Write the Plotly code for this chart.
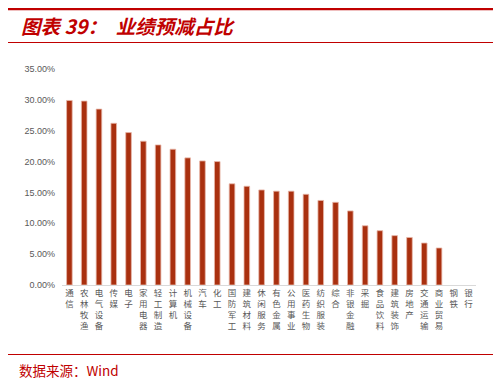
import plotly.graph_objects as go

categories = ["通信", "农林牧渔", "电气设备", "传媒", "电子", "家用电器", "轻工制造", "计算机",
              "机械设备", "汽车", "化工", "国防军工", "建筑材料", "休闲服务", "有色金属", "公用事业",
              "医药生物", "纺织服装", "综合", "非银金融", "采掘", "食品饮料", "建筑装饰", "房地产",
              "交通运输", "商业贸易", "钢铁", "银行"]
values = [0.299, 0.298, 0.285, 0.262, 0.247, 0.233, 0.227, 0.220,
          0.206, 0.201, 0.200, 0.164, 0.160, 0.154, 0.152, 0.152,
          0.147, 0.137, 0.134, 0.120, 0.096, 0.088, 0.080, 0.077,
          0.068, 0.060, 0.0, 0.0]
ytick_vals = [0, 0.05, 0.10, 0.15, 0.20, 0.25, 0.30, 0.35]
ytick_text = ["0.00%", "5.00%", "10.00%", "15.00%", "20.00%", "25.00%", "30.00%", "35.00%"]

# page body has an 8px margin; figure is drawn offset by (8, 8)
OFF = 8
W, H = 501 - OFF, 386 - OFF
L, R, T, B = 62 - OFF, 476 - OFF, 69 - OFF, 285 - OFF


def px(x):
    return (x - OFF - L) / (R - L)


def py(y):
    return (B - (y - OFF)) / (B - T)


fig = go.Figure()
fig.add_trace(go.Bar(
    x=categories,
    y=values,
    width=0.38,
    marker=dict(color="#A9300F",
                line=dict(color="#E9B7AA", width=[0.8 if v > 0 else 0 for v in values])),
))

fig.update_layout(
    width=W, height=H,
    margin=dict(l=L, r=W - R, t=T, b=H - B, pad=0),
    paper_bgcolor="white", plot_bgcolor="white",
    showlegend=False,
    font=dict(family="Noto Sans CJK SC, sans-serif", color="#595959"),
    xaxis=dict(
        tickmode="array",
        tickvals=categories,
        ticktext=["<br>".join(list(c)) for c in categories],
        tickangle=0,
        tickfont=dict(size=8.5, color="#595959", family="Noto Sans CJK SC"),
        showline=True, linecolor="#D9D9D9", linewidth=1,
        showgrid=False, ticks="", zeroline=False,
    ),
    yaxis=dict(
        range=[0, 0.35],
        tickmode="array",
        tickvals=ytick_vals,
        ticktext=ytick_text,
        tickfont=dict(size=9, color="#595959", family="Liberation Sans, Arial"),
        showline=False, showgrid=False, zeroline=False, ticks="",
        ticklabelstandoff=6,
    ),
)

shapes = [
    dict(type="line", xref="paper", yref="paper", x0=px(8), x1=px(496), y0=py(9), y1=py(9),
         line=dict(color="#C00000", width=2.5)),
    dict(type="line", xref="paper", yref="paper", x0=px(8), x1=px(496), y0=py(42.5), y1=py(42.5),
         line=dict(color="#C00000", width=1)),
    dict(type="line", xref="paper", yref="paper", x0=px(8), x1=px(496), y0=py(354.5), y1=py(354.5),
         line=dict(color="#C00000", width=1)),
    dict(type="rect", xref="paper", yref="paper", x0=px(497), x1=px(501), y0=py(167), y1=py(224),
         fillcolor="#7F8790", line=dict(width=0)),
    dict(type="rect", xref="paper", yref="paper", x0=px(499), x1=px(501), y0=py(196), y1=py(198),
         fillcolor="white", line=dict(width=0)),
]
fig.update_layout(shapes=shapes)

fig.add_annotation(
    xref="paper", yref="paper", x=px(19), y=py(26), xanchor="left", yanchor="middle",
    text="<b><i>图表 39：  业绩预减占比</i></b>", showarrow=False,
    font=dict(size=19.5, color="#C00000", family="Noto Sans CJK SC"),
)
fig.add_annotation(
    xref="paper", yref="paper", x=px(17), y=py(370), xanchor="left", yanchor="middle",
    text="数据来源：Wind", showarrow=False,
    font=dict(size=13.5, color="#C00000", family="Noto Sans CJK SC"),
)

fig.write_html("out.html")
